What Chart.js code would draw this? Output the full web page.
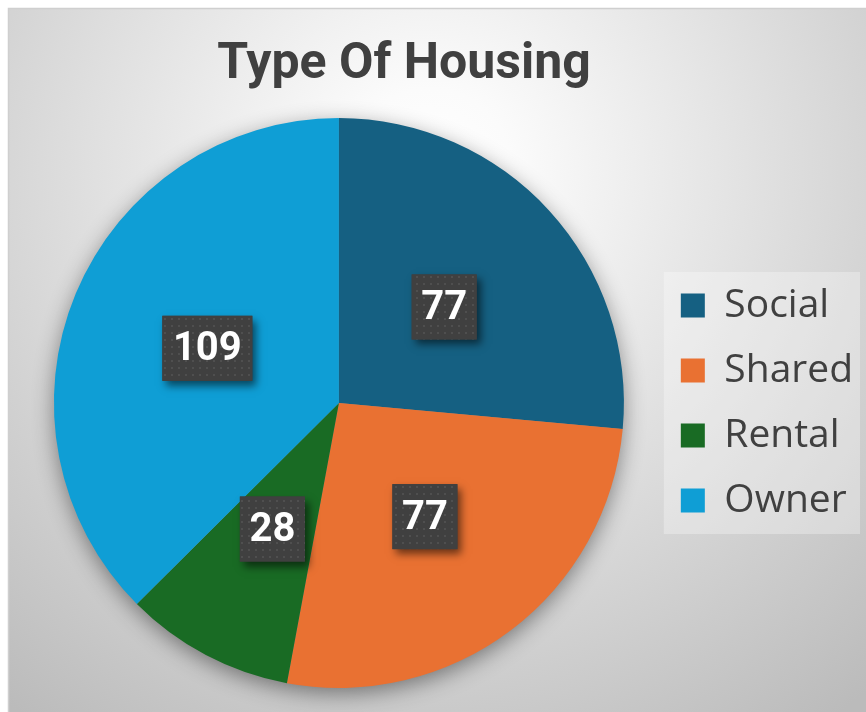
<!DOCTYPE html>
<html>
<head>
<meta charset="utf-8">
<script src="https://cdn.jsdelivr.net/npm/chart.js@4"></script>
<style>
  html, body { margin: 0; padding: 0; background: #fff; }
  #wrap { width: 866px; height: 712px; }
</style>
</head>
<body>
<div id="wrap"><canvas id="housingChart" width="866" height="712"></canvas></div>
<script>
const chartTitle = 'Type Of Housing';
const categories = ['Social', 'Shared', 'Rental', 'Owner'];
const housingCounts = [77, 77, 28, 109];
const sliceColors = ['#156082', '#E97132', '#196B24', '#0F9ED5'];

// small dotted texture used inside the data label boxes
function makeDotPattern(ctx) {
  const c = document.createElement('canvas');
  c.width = 7; c.height = 7;
  const p = c.getContext('2d');
  p.fillStyle = '#404040';
  p.fillRect(0, 0, 7, 7);
  p.fillStyle = '#4f4f4f';
  p.fillRect(3, 3, 2, 2);
  return ctx.createPattern(c, 'repeat');
}

const backgroundPlugin = {
  id: 'panelBackground',
  afterLayout(chart) {
    // title sits a bit left of the canvas centre, legend a bit lower
    const t = chart.titleBlock;
    if (t) { t.left -= 39; t.right -= 39; }
    const lg = chart.legend;
    if (lg) { lg.top += 59; lg.bottom += 59; }
  },
  beforeDraw(chart) {
    const { ctx, width, height } = chart;
    ctx.save();
    ctx.fillStyle = '#ffffff';
    ctx.fillRect(0, 0, width, height);
    const g = ctx.createRadialGradient(430, 170, 0, 430, 170, 680);
    g.addColorStop(0, '#ffffff');
    g.addColorStop(0.12, '#fbfbfb');
    g.addColorStop(1, '#bbbbbb');
    ctx.fillStyle = g;
    ctx.fillRect(8, 8, width - 8, height - 8);
    ctx.strokeStyle = '#cfcfcf';
    ctx.lineWidth = 1.5;
    ctx.beginPath();
    ctx.moveTo(8.5, height);
    ctx.lineTo(8.5, 8.5);
    ctx.lineTo(width, 8.5);
    ctx.stroke();

    // legend panel
    const lg = chart.legend;
    if (lg && lg.legendHitBoxes && lg.legendHitBoxes.length) {
      const boxes = lg.legendHitBoxes;
      const x0 = boxes[0].left - 17;
      const y0 = boxes[0].top - 14;
      const last = boxes[boxes.length - 1];
      ctx.fillStyle = 'rgba(255,255,255,0.3)';
      ctx.fillRect(x0, y0, 860 - x0, last.top + last.height + 14 - y0);
    }
    ctx.restore();
  },
  beforeDatasetsDraw(chart) {
    const meta = chart.getDatasetMeta(0);
    const arc = meta.data[0];
    if (!arc) return;
    const { ctx } = chart;
    ctx.save();
    ctx.shadowColor = 'rgba(0,0,0,0.45)';
    ctx.shadowBlur = 22;
    ctx.shadowOffsetY = 6;
    ctx.fillStyle = '#888';
    ctx.beginPath();
    ctx.arc(arc.x, arc.y, arc.outerRadius - 1, 0, Math.PI * 2);
    ctx.fill();
    ctx.restore();
  }
};

const labelBoxPlugin = {
  id: 'labelBoxes',
  afterDatasetsDraw(chart) {
    const { ctx } = chart;
    const meta = chart.getDatasetMeta(0);
    const pattern = makeDotPattern(ctx);
    ctx.save();
    ctx.font = 'bold 40px Roboto, "Liberation Sans", sans-serif';
    ctx.textAlign = 'center';
    ctx.textBaseline = 'middle';
    meta.data.forEach((el, i) => {
      const pos = el.tooltipPosition();
      const txt = String(housingCounts[i]);
      const w = txt.length > 2 ? 90 : 65;
      const h = 65;
      const x = pos.x - w / 2, y = pos.y - h / 2;
      ctx.save();
      ctx.shadowColor = 'rgba(0,0,0,0.55)';
      ctx.shadowBlur = 8;
      ctx.shadowOffsetX = 4;
      ctx.shadowOffsetY = 5;
      ctx.fillStyle = '#404040';
      ctx.fillRect(x, y, w, h);
      ctx.restore();
      ctx.fillStyle = pattern;
      ctx.fillRect(x, y, w, h);
      ctx.fillStyle = '#ffffff';
      ctx.fillText(txt, pos.x, pos.y + 2);
    });
    ctx.restore();
  }
};

new Chart(document.getElementById('housingChart'), {
  type: 'pie',
  data: {
    labels: categories,
    datasets: [{
      data: housingCounts,
      backgroundColor: sliceColors,
      borderWidth: 0
    }]
  },
  options: {
    responsive: false,
    animation: false,
    layout: { padding: { left: 23, right: 3, top: 0, bottom: 24 } },
    plugins: {
      title: {
        display: true,
        text: chartTitle,
        color: '#404040',
        font: { family: 'Roboto', size: 50, weight: 'bold' },
        padding: { top: 35, bottom: 23 }
      },
      legend: {
        position: 'right',
        align: 'center',
        labels: {
          boxWidth: 24,
          boxHeight: 24,
          padding: 26,
          color: '#404040',
          font: { family: '"Open Sans", sans-serif', size: 39 }
        }
      },
      tooltip: { enabled: false }
    }
  },
  plugins: [backgroundPlugin, labelBoxPlugin]
});
</script>
</body>
</html>
